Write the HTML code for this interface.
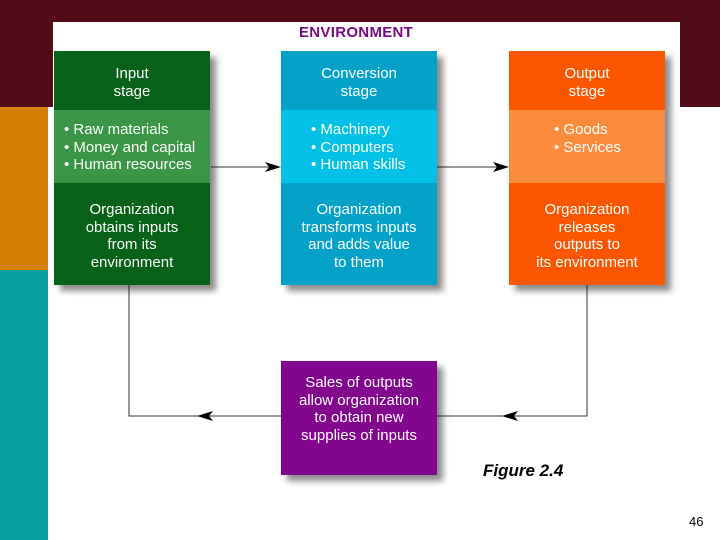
<!DOCTYPE html>
<html><head><meta charset="utf-8"><style>
body{margin:0;width:720px;height:540px;position:relative;overflow:hidden;background:#fff;font-family:"Liberation Sans",sans-serif}
.a{position:absolute}
.box{position:absolute;width:156px;box-shadow:6px 6px 6px rgba(0,0,0,0.45);color:#fff;text-align:center;font-size:15px;line-height:17.5px}
.box div{position:absolute;left:0;width:156px}
.l{text-align:left}
</style></head><body>
<div class="a" style="left:0;top:0;width:720px;height:22px;background:#520c18"></div>
<div class="a" style="left:0;top:0;width:53px;height:107px;background:#520c18"></div>
<div class="a" style="left:680px;top:0;width:40px;height:107px;background:#520c18"></div>
<div class="a" style="left:0;top:107px;width:48px;height:163px;background:#d67f06"></div>
<div class="a" style="left:0;top:270px;width:48px;height:270px;background:#07a09e"></div>
<div class="a" style="left:299px;top:24px;font-size:15px;font-weight:900;color:#7a0a80;letter-spacing:0.3px">ENVIRONMENT</div>

<svg class="a" style="left:0;top:0" width="720" height="540">
<g stroke="#333" stroke-width="1" fill="none">
<line x1="211" y1="167" x2="275" y2="167"/>
<line x1="437" y1="167" x2="503" y2="167"/>
<polyline points="129,285 129,416 281,416"/>
<polyline points="587,285 587,416 437,416"/>
</g>
<g fill="#000">
<polygon points="281,167 265,162 269,167 265,172"/>
<polygon points="509,167 493,162 497,167 493,172"/>
<polygon points="197,416 213,411 209,416 213,421"/>
<polygon points="502,416 518,411 514,416 518,421"/>
</g>
</svg>

<div class="box" style="left:54px;top:51px;height:234px;background:#076118">
<div style="top:0;height:59px;padding-top:14px;box-sizing:border-box">Input<br>stage</div>
<div class="l" style="top:59px;height:73px;background:#3a9646;padding:11px 0 0 10px;box-sizing:border-box">• Raw materials<br>• Money and capital<br>• Human resources</div>
<div style="top:150px">Organization<br>obtains inputs<br>from its<br>environment</div>
</div>
<div class="box" style="left:281px;top:51px;height:234px;background:#04a2c8">
<div style="top:0;height:59px;padding-top:14px;box-sizing:border-box">Conversion<br>stage</div>
<div class="l" style="top:59px;height:73px;background:#02c0e6;padding:11px 0 0 30px;box-sizing:border-box">• Machinery<br>• Computers<br>• Human skills</div>
<div style="top:150px">Organization<br>transforms inputs<br>and adds value<br>to them</div>
</div>
<div class="box" style="left:509px;top:51px;height:234px;background:#fd5600">
<div style="top:0;height:59px;padding-top:14px;box-sizing:border-box">Output<br>stage</div>
<div class="l" style="top:59px;height:73px;background:#fd8b3e;padding:11px 0 0 45px;box-sizing:border-box">• Goods<br>• Services</div>
<div style="top:150px">Organization<br>releases<br>outputs to<br>its environment</div>
</div>
<div class="box" style="left:281px;top:361px;height:114px;background:#82068e">
<div style="top:13px">Sales of outputs<br>allow organization<br>to obtain new<br>supplies of inputs</div>
</div>
<div class="a" style="left:483px;top:461px;font-size:17px;font-weight:bold;font-style:italic">Figure 2.4</div>
<div class="a" style="left:689px;top:514px;font-size:13px">46</div>
</body></html>
